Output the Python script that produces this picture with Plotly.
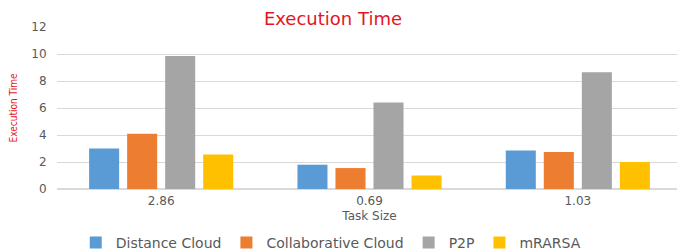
import plotly.graph_objects as go

categories = ["2.86", "0.69", "1.03"]
distance_cloud = [3.0, 1.8, 2.85]
collaborative_cloud = [4.1, 1.55, 2.75]
p2p = [9.85, 6.4, 8.65]
mrarsa = [2.55, 1.0, 2.0]
series_names = ["Distance Cloud", "Collaborative Cloud", "P2P", "mRARSA"]
colors = ["#5b9bd5", "#ed7d31", "#a5a5a5", "#ffc000"]
y_ticks = [0, 2, 4, 6, 8, 10, 12]

fig = go.Figure()
for name, vals, c in zip(series_names, [distance_cloud, collaborative_cloud, p2p, mrarsa], colors):
    fig.add_trace(go.Bar(x=categories, y=vals, name=name, marker=dict(color=c, line=dict(width=0))))

font_family = "DejaVu Sans"
fig.update_layout(
    width=677, height=243,
    margin=dict(l=49, r=3, t=19, b=62, autoexpand=False),
    paper_bgcolor="white", plot_bgcolor="white",
    barmode="group", bargap=0.27, bargroupgap=0.21,
    title=dict(text="Execution Time", x=0.48, xanchor="center", y=1.0, yanchor="top", pad=dict(t=4),
               font=dict(family="DejaVu Sans", size=18, color="#e4151f")),
    font=dict(family=font_family, size=12, color="#595959"),
    showlegend=True,
    legend=dict(orientation="h", x=0.03, xanchor="left", y=-0.333, yanchor="middle",
                font=dict(size=14, color="#595959"), itemwidth=30, traceorder="normal"),
    xaxis=dict(title=dict(text="Task Size", standoff=4, font=dict(size=12, color="#595959")),
               showline=True, linecolor="#d9d9d9", ticks="outside", ticklen=1, tickcolor="rgba(0,0,0,0)",
               tickfont=dict(size=12), automargin=False),
    yaxis=dict(title=dict(text="Execution Time", standoff=12,
                          font=dict(family="DejaVu Sans Condensed", size=10, color="#e4151f")),
               range=[0, 12], tickvals=y_ticks, showgrid=True, gridcolor="#d9d9d9",
               zeroline=True, zerolinecolor="#d9d9d9", ticks="outside", ticklen=7,
               tickcolor="rgba(0,0,0,0)", tickfont=dict(size=12), automargin=False),
)
fig.write_html("out.html")
